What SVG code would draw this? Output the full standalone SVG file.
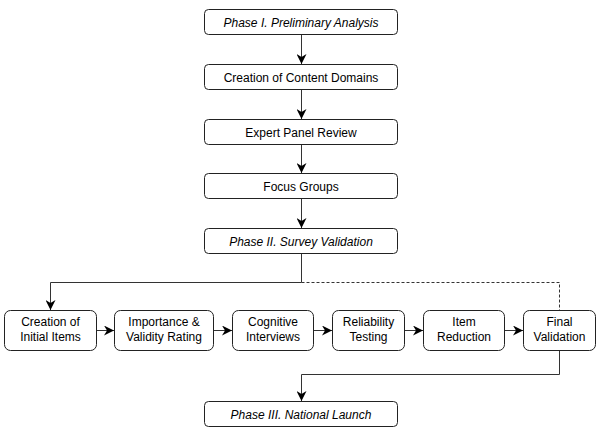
<svg xmlns="http://www.w3.org/2000/svg" width="600" height="437" viewBox="0 0 600 437">
<defs>
<marker id="ah" viewBox="0 0 10 10" refX="10" refY="5" markerWidth="10" markerHeight="10" markerUnits="userSpaceOnUse" orient="auto">
<path d="M0,0 L10,5 L0,10 L3,5 Z" fill="#000"/>
</marker>
</defs>
<style>
rect{fill:#fff;stroke:#222;stroke-width:1}
text{font-family:"Liberation Sans",Arial,sans-serif;font-size:12px;fill:#000;text-anchor:middle}
.it{font-style:italic}
.c{fill:none;stroke:#333;stroke-width:1}
.d{stroke-dasharray:3,2}
</style>
<rect x="0" y="0" width="600" height="437" style="fill:#fff;stroke:none"/>
<g id="connectors">
<path class="c" d="M301.5,34.5 V64" marker-end="url(#ah)"/>
<path class="c" d="M301.5,89.5 V119" marker-end="url(#ah)"/>
<path class="c" d="M301.5,144.5 V173" marker-end="url(#ah)"/>
<path class="c" d="M301.5,198.5 V228" marker-end="url(#ah)"/>
<path class="c" d="M301.5,253.5 V282.5 H50.5 V310" marker-end="url(#ah)"/>
<path class="c d" d="M301.5,282.5 H559.5 V310"/>
<path class="c" d="M96.5,330.5 H114" marker-end="url(#ah)"/>
<path class="c" d="M214,330.5 H232" marker-end="url(#ah)"/>
<path class="c" d="M314,330.5 H332" marker-end="url(#ah)"/>
<path class="c" d="M405,330.5 H423" marker-end="url(#ah)"/>
<path class="c" d="M505,330.5 H523" marker-end="url(#ah)"/>
<path class="c" d="M559.5,350.5 V374.5 H301.5 V401" marker-end="url(#ah)"/>
</g>
<g id="phase1"><rect x="204.5" y="9.5" width="193" height="25" rx="4"/><text class="it" x="301" y="26.5">Phase I. Preliminary Analysis</text></g>
<g id="content-domains"><rect x="204.5" y="64.5" width="193" height="25" rx="4"/><text x="301" y="81.5">Creation of Content Domains</text></g>
<g id="expert-panel"><rect x="204.5" y="119.5" width="193" height="25" rx="4"/><text x="301" y="136.5">Expert Panel Review</text></g>
<g id="focus-groups"><rect x="204.5" y="173.5" width="193" height="25" rx="4"/><text x="301" y="190.5">Focus Groups</text></g>
<g id="phase2"><rect x="204.5" y="228.5" width="193" height="25" rx="4"/><text class="it" x="301" y="245.5">Phase II. Survey Validation</text></g>
<g id="initial-items"><rect x="4.5" y="310.5" width="92" height="40" rx="6"/><text x="50.5" y="326">Creation of</text><text x="50.5" y="341">Initial Items</text></g>
<g id="importance"><rect x="114.5" y="310.5" width="99" height="40" rx="6"/><text x="164" y="326">Importance &amp;</text><text x="164" y="341">Validity Rating</text></g>
<g id="cognitive"><rect x="232.5" y="310.5" width="81" height="40" rx="6"/><text x="273" y="326">Cognitive</text><text x="273" y="341">Interviews</text></g>
<g id="reliability"><rect x="332.5" y="310.5" width="72" height="40" rx="6"/><text x="368.5" y="326">Reliability</text><text x="368.5" y="341">Testing</text></g>
<g id="item-reduction"><rect x="423.5" y="310.5" width="81" height="40" rx="6"/><text x="464" y="326">Item</text><text x="464" y="341">Reduction</text></g>
<g id="final-validation"><rect x="523.5" y="310.5" width="72" height="40" rx="6"/><text x="559.5" y="326">Final</text><text x="559.5" y="341">Validation</text></g>
<g id="phase3"><rect x="204.5" y="401.5" width="193" height="25" rx="4"/><text class="it" x="301" y="418.5">Phase III. National Launch</text></g>
</svg>
